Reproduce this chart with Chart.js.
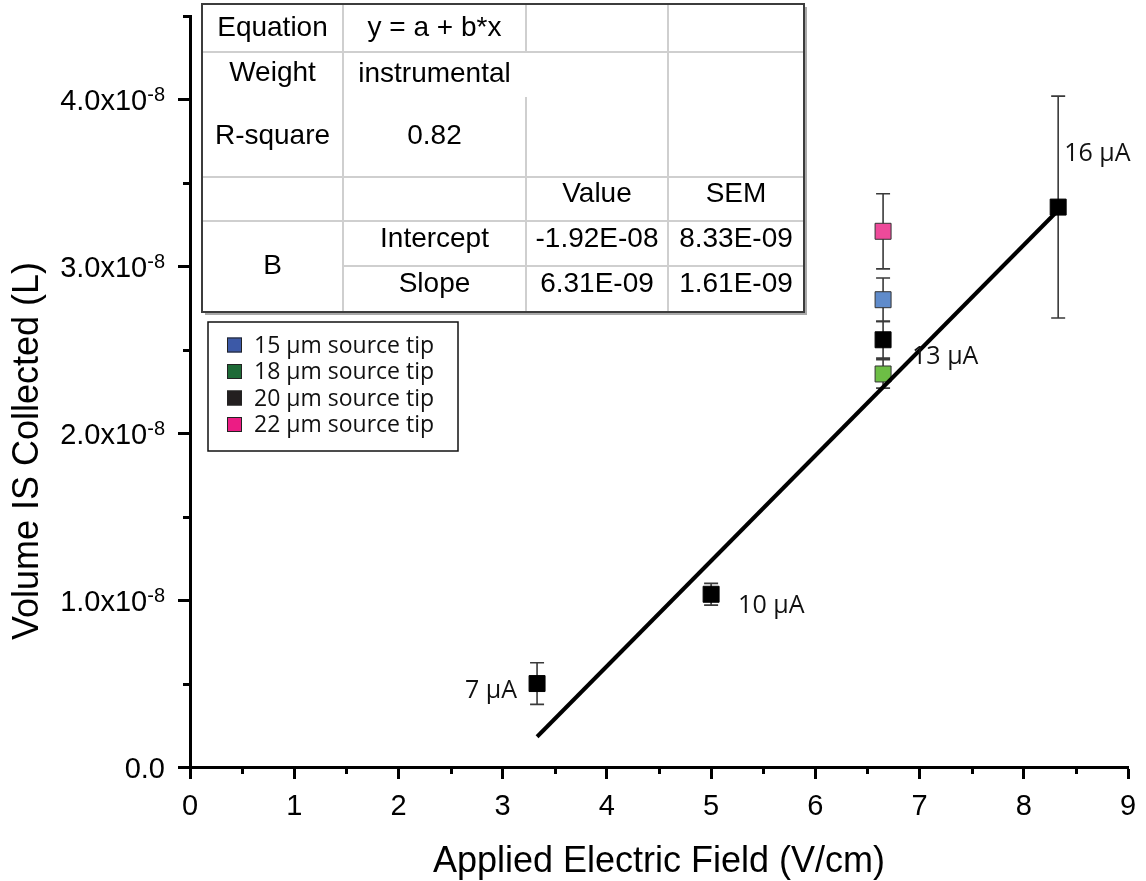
<!DOCTYPE html>
<html>
<head>
<meta charset="utf-8">
<title>Volume IS Collected vs Applied Electric Field</title>
<style>
  html, body { margin: 0; padding: 0; background: #ffffff; }
  #wrap { width: 1146px; height: 881px; position: relative; }
</style>
<script src="https://cdn.jsdelivr.net/npm/chart.js@4.4.1/dist/chart.umd.min.js"></script>
</head>
<body>
<div id="wrap"><canvas id="chart" width="1146" height="881"></canvas></div>
<script>
// ---- Measurements: applied field (V/cm), collected volume (L), standard error (L) ----
const fieldTip20  = [3.33, 5.0, 6.65, 8.33];
const volumeTip20 = [0.50e-8, 1.035e-8, 2.56e-8, 3.355e-8];
const errorTip20  = [0.125e-8, 0.065e-8, 0.11e-8, 0.665e-8];
const currentLabels = ['7 \u03bcA', '10 \u03bcA', '13 \u03bcA', '16 \u03bcA'];

const fieldTip15  = [6.65];
const volumeTip15 = [2.80e-8];
const errorTip15  = [0.13e-8];

const fieldTip18  = [6.65];
const volumeTip18 = [2.355e-8];
const errorTip18  = [0.085e-8];

const fieldTip22  = [6.65];
const volumeTip22 = [3.21e-8];
const errorTip22  = [0.225e-8];

// ---- Linear fit (instrumental weighting) ----
const fitIntercept = -1.92e-8;
const fitSlope = 6.31e-9;
const fitRange = [3.33, 8.33];

// ---- Fit report table ----
const reportKeys   = ['Equation', 'Weight', 'R-square'];
const reportInfo   = ['y = a + b*x', 'instrumental', '0.82'];
const reportHeads  = ['Value', 'SEM'];
const reportGroup  = 'B';
const reportParams = ['Intercept', 'Slope'];
const reportValues = ['-1.92E-08', '6.31E-09'];
const reportSEM    = ['8.33E-09', '1.61E-09'];

// ---- Axis ticks ----
const xTickValues = [0, 1, 2, 3, 4, 5, 6, 7, 8, 9];
const xMinorValues = [0.5, 1.5, 2.5, 3.5, 4.5, 5.5, 6.5, 7.5, 8.5];
const yTickValues = [0, 1e-8, 2e-8, 3e-8, 4e-8];
const yTickMantissa = ['0.0', '1.0x10', '2.0x10', '3.0x10', '4.0x10'];
const yTickExponent = ['', '-8', '-8', '-8', '-8'];
const yMinorValues = [0.5e-8, 1.5e-8, 2.5e-8, 3.5e-8, 4.5e-8];

const xTitle = 'Applied Electric Field (V/cm)';
const yTitle = 'Volume IS Collected (L)';

// ---- Styling ----
const ARIAL = '"Liberation Sans", Arial, Helvetica, sans-serif';
const SANS2 = '"Open Sans", "Noto Sans", sans-serif';
const labelPlacement = [
  { dx: -20, dy: 7,   align: 'right' },
  { dx: 27,  dy: 12,  align: 'left' },
  { dx: 29,  dy: 17,  align: 'left' },
  { dx: 6,   dy: -53, align: 'left' }
];

function toPoints(xs, ys) { return xs.map((x, i) => ({ x: x, y: ys[i] })); }

const MARKER_R = 11.3; // rect side = 2 * r * sqrt(1/2)

const datasets = [
  {
    label: 'Linear fit',
    data: fitRange.map(x => ({ x: x, y: fitIntercept + fitSlope * x })),
    showLine: true,
    borderColor: '#000000',
    borderWidth: 4,
    pointRadius: 0,
    order: 0
  },
  {
    label: '15 \u03bcm source tip',
    data: toPoints(fieldTip15, volumeTip15),
    errors: errorTip15,
    pointStyle: 'rect', pointRadius: MARKER_R,
    backgroundColor: '#5f8bcb', borderColor: '#333333', borderWidth: 1,
    legendColor: '#3c59a7',
    order: 2
  },
  {
    label: '18 \u03bcm source tip',
    data: toPoints(fieldTip18, volumeTip18),
    errors: errorTip18,
    pointStyle: 'rect', pointRadius: MARKER_R,
    backgroundColor: '#6dbe45', borderColor: '#333333', borderWidth: 1,
    legendColor: '#1e6a37',
    order: 2
  },
  {
    label: '20 \u03bcm source tip',
    data: toPoints(fieldTip20, volumeTip20),
    errors: errorTip20,
    pointLabels: currentLabels,
    pointStyle: 'rect', pointRadius: MARKER_R,
    backgroundColor: '#000000', borderColor: '#000000', borderWidth: 1,
    legendColor: '#231f20',
    order: 2
  },
  {
    label: '22 \u03bcm source tip',
    data: toPoints(fieldTip22, volumeTip22),
    errors: errorTip22,
    pointStyle: 'rect', pointRadius: MARKER_R,
    backgroundColor: '#ee4a9a', borderColor: '#333333', borderWidth: 1,
    legendColor: '#ec1c84',
    order: 2
  }
];

// Error bars, drawn beneath the markers
const errorBarPlugin = {
  id: 'errorBars',
  beforeDatasetsDraw(chart) {
    const ctx = chart.ctx, xs = chart.scales.x, ys = chart.scales.y;
    ctx.save();
    ctx.strokeStyle = '#3a3a3a';
    ctx.lineWidth = 1.6;
    chart.data.datasets.forEach(ds => {
      if (!ds.errors) return;
      ds.data.forEach((p, i) => {
        const e = ds.errors[i];
        const px = xs.getPixelForValue(p.x);
        const top = ys.getPixelForValue(p.y + e);
        const bot = ys.getPixelForValue(p.y - e);
        ctx.beginPath();
        ctx.moveTo(px, top); ctx.lineTo(px, bot);
        ctx.moveTo(px - 7, top); ctx.lineTo(px + 7, top);
        ctx.moveTo(px - 7, bot); ctx.lineTo(px + 7, bot);
        ctx.stroke();
      });
    });
    ctx.restore();
  }
};

// Current annotations next to the 20 um points
const pointLabelPlugin = {
  id: 'pointLabels',
  afterDatasetsDraw(chart) {
    const ctx = chart.ctx, xs = chart.scales.x, ys = chart.scales.y;
    ctx.save();
    ctx.fillStyle = '#111111';
    ctx.font = '25px ' + SANS2;
    ctx.textBaseline = 'middle';
    chart.data.datasets.forEach(ds => {
      if (!ds.pointLabels) return;
      ds.data.forEach((p, i) => {
        const pl = labelPlacement[i];
        ctx.textAlign = pl.align;
        ctx.fillText(ds.pointLabels[i], xs.getPixelForValue(p.x) + pl.dx, ys.getPixelForValue(p.y) + pl.dy);
      });
    });
    ctx.restore();
  }
};

// Tick labels (with superscript exponent), minor ticks and axis titles
const axisDecorPlugin = {
  id: 'axisDecor',
  afterDraw(chart) {
    const ctx = chart.ctx, xs = chart.scales.x, ys = chart.scales.y;
    const area = chart.chartArea;
    ctx.save();
    ctx.strokeStyle = '#000';
    ctx.lineWidth = 3;
    ctx.beginPath();
    xMinorValues.forEach(v => {
      const px = Math.round(xs.getPixelForValue(v)) + 0.5;
      ctx.moveTo(px, area.bottom); ctx.lineTo(px, area.bottom + 7);
    });
    yMinorValues.forEach(v => {
      const py = Math.round(ys.getPixelForValue(v)) + 0.5;
      ctx.moveTo(area.left, py); ctx.lineTo(area.left - 7, py);
    });
    ctx.stroke();

    ctx.fillStyle = '#000';
    // x tick labels
    ctx.font = '29px ' + ARIAL;
    ctx.textAlign = 'center';
    ctx.textBaseline = 'alphabetic';
    xTickValues.forEach(v => {
      ctx.fillText(String(v), xs.getPixelForValue(v), 815);
    });
    // y tick labels
    const right = 165;
    yTickValues.forEach((v, i) => {
      const py = ys.getPixelForValue(v);
      const exp = yTickExponent[i];
      ctx.font = '20px ' + ARIAL;
      const ew = exp ? ctx.measureText(exp).width : 0;
      ctx.textAlign = 'right';
      if (exp) ctx.fillText(exp, right, py + 2);
      ctx.font = '29px ' + ARIAL;
      ctx.fillText(yTickMantissa[i], right - ew, py + 11);
    });
    // axis titles
    ctx.font = '36px ' + ARIAL;
    ctx.textAlign = 'center';
    ctx.fillText(xTitle, (area.left + area.right) / 2, 872);
    ctx.translate(38, 451);
    ctx.rotate(-Math.PI / 2);
    ctx.fillText(yTitle, 0, 0);
    ctx.restore();
  }
};

// Fit report table and tip-size legend in the upper left of the plot
const reportPlugin = {
  id: 'fitReport',
  afterDraw(chart) {
    const ctx = chart.ctx;
    const cols = [202, 343, 526, 668, 804];
    const rows = [4, 52, 97, 177, 221, 266, 312];
    ctx.save();
    // drop shadow
    ctx.fillStyle = '#a9a9a9';
    ctx.fillRect(cols[0] + 3, rows[0] + 3, cols[4] - cols[0], rows[6] - rows[0]);
    ctx.fillStyle = '#ffffff';
    ctx.fillRect(cols[0], rows[0], cols[4] - cols[0], rows[6] - rows[0]);

    // inner grid lines
    ctx.strokeStyle = '#cfcfcf';
    ctx.lineWidth = 2;
    const seg = (x1, y1, x2, y2) => { ctx.moveTo(x1, y1); ctx.lineTo(x2, y2); };
    ctx.beginPath();
    seg(cols[0], rows[1], cols[4], rows[1]);
    seg(cols[0], rows[3], cols[4], rows[3]);
    seg(cols[0], rows[4], cols[4], rows[4]);
    seg(cols[1], rows[5], cols[4], rows[5]);
    seg(cols[1], rows[0], cols[1], rows[6]);
    seg(cols[2], rows[0], cols[2], rows[1]);
    seg(cols[2], rows[2], cols[2], rows[6]);
    seg(cols[3], rows[0], cols[3], rows[6]);
    ctx.stroke();

    // outer border
    ctx.strokeStyle = '#3c3c3c';
    ctx.lineWidth = 2;
    ctx.strokeRect(cols[0], rows[0], cols[4] - cols[0], rows[6] - rows[0]);

    // cell text
    ctx.fillStyle = '#000';
    ctx.font = '28px ' + ARIAL;
    ctx.textAlign = 'center';
    ctx.textBaseline = 'middle';
    const cx = c => (cols[c] + cols[c + 1]) / 2;
    const textRowY = [28, 73, 136];
    reportKeys.forEach((k, i) => ctx.fillText(k, cx(0), textRowY[i]));
    reportInfo.forEach((k, i) => ctx.fillText(k, cx(1), textRowY[i] + (i === 1 ? 1 : 0)));
    ctx.fillText(reportHeads[0], cx(2), 194);
    ctx.fillText(reportHeads[1], cx(3), 194);
    ctx.fillText(reportGroup, cx(0), 266);
    const pRowY = [239, 284];
    reportParams.forEach((k, i) => {
      ctx.fillText(k, cx(1), pRowY[i]);
      ctx.fillText(reportValues[i], cx(2), pRowY[i]);
      ctx.fillText(reportSEM[i], cx(3), pRowY[i]);
    });

    // legend
    const lg = { x: 208, y: 322, w: 250, h: 129 };
    ctx.fillStyle = '#ffffff';
    ctx.fillRect(lg.x, lg.y, lg.w, lg.h);
    ctx.strokeStyle = '#111111';
    ctx.lineWidth = 1.5;
    ctx.strokeRect(lg.x, lg.y, lg.w, lg.h);
    ctx.font = '23px ' + SANS2;
    ctx.textAlign = 'left';
    const entries = chart.data.datasets.filter(d => d.legendColor);
    entries.forEach((d, i) => {
      const cy = 345 + i * 26.5;
      ctx.fillStyle = d.legendColor;
      ctx.fillRect(227, cy - 7.5, 15, 15);
      ctx.strokeStyle = '#222';
      ctx.lineWidth = 1;
      ctx.strokeRect(227.5, cy - 7, 14, 14);
      ctx.fillStyle = '#111';
      ctx.fillText(d.label, 254, cy + 1);
    });
    ctx.restore();
  }
};

new Chart(document.getElementById('chart'), {
  type: 'scatter',
  data: { datasets: datasets },
  options: {
    responsive: false,
    animation: false,
    devicePixelRatio: 1,
    layout: { padding: { top: 16, right: 18, left: 0, bottom: 0 } },
    plugins: { legend: { display: false }, tooltip: { enabled: false } },
    scales: {
      x: {
        type: 'linear', min: 0, max: 9,
        ticks: { stepSize: 1, display: false },
        grid: { display: true, drawOnChartArea: false, drawTicks: true, tickLength: 12, tickWidth: 3, tickColor: '#000' },
        border: { display: true, color: '#000', width: 3 },
        afterFit(scale) { scale.height = 114; }
      },
      y: {
        type: 'linear', min: 0, max: 4.5e-8,
        ticks: { stepSize: 1e-8, includeBounds: false, display: false },
        grid: { display: true, drawOnChartArea: false, drawTicks: true, tickLength: 12, tickWidth: 3, tickColor: '#000' },
        border: { display: true, color: '#000', width: 3 },
        afterFit(scale) { scale.width = 190; }
      }
    }
  },
  plugins: [errorBarPlugin, pointLabelPlugin, axisDecorPlugin, reportPlugin]
});
</script>
</body>
</html>
